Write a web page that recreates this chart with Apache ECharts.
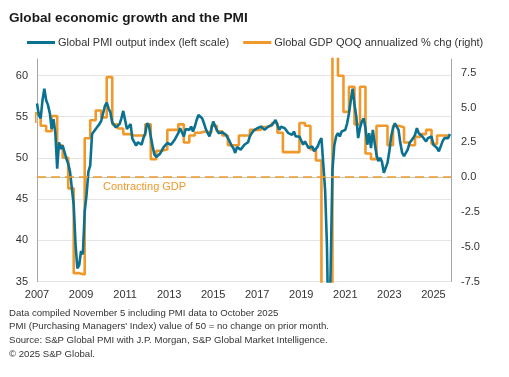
<!DOCTYPE html>
<html>
<head>
<meta charset="utf-8">
<script src="https://cdn.jsdelivr.net/npm/echarts@6/dist/echarts.min.js"></script>
<style>
html, body { margin: 0; padding: 0; background: #fff; }
#chart { width: 509px; height: 377px; }
</style>
</head>
<body>
<div id="chart"></div>
<script>
const startYear = 2007;
const yearLabels = [2007, 2009, 2011, 2013, 2015, 2017, 2019, 2021, 2023, 2025];

// Global PMI output index, monthly, Jan 2007 - Oct 2025
const pmiValues = [
    56.6, 55.2, 54.8, 57.0, 58.4, 57.0, 56.4, 55.4, 53.5, 54.7, 53.0, 48.7, // 2007
    51.9, 51.1, 51.5, 51.5, 49.9, 49.3, 48.3, 46.3, 44.3, 39.5, 36.6, 37.0, // 2008
    38.7, 38.3, 43.5, 45.5, 48.3, 49.1, 52.9, 53.2, 53.5, 53.8, 54.1, 54.5, // 2009
    54.7, 56.3, 56.7, 56.0, 55.5, 54.3, 54.3, 53.7, 53.9, 54.1, 54.8, 55.7, // 2010
    54.6, 53.5, 53.8, 54.1, 52.3, 51.9, 51.5, 51.9, 52.0, 51.6, 52.4, 53.0, // 2011
    54.2, 53.9, 52.6, 51.4, 50.4, 50.1, 50.0, 50.5, 50.6, 51.3, 51.1, 51.8, // 2012
    52.0, 51.6, 51.4, 52.2, 52.6, 53.0, 53.6, 53.8, 52.6, 53.5, 53.6, 53.4, // 2013
    53.8, 53.2, 53.8, 54.6, 55.2, 55.0, 54.8, 54.2, 53.5, 53.0, 52.6, 52.8, // 2014
    54.4, 53.9, 53.4, 53.0, 53.2, 53.1, 53.0, 52.8, 52.4, 52.0, 51.5, 51.2, // 2015
    50.6, 51.3, 51.2, 51.0, 51.2, 51.6, 51.8, 51.9, 52.6, 53.0, 53.3, 53.5, // 2016
    53.6, 53.8, 53.8, 53.6, 53.4, 53.6, 53.8, 53.8, 54.0, 54.2, 54.6, 54.4, // 2017
    53.4, 53.8, 54.0, 53.6, 53.4, 53.0, 52.8, 52.8, 53.2, 52.6, 52.4, 52.6, // 2018
    52.6, 51.6, 52.0, 51.6, 51.2, 51.4, 51.4, 50.8, 51.0, 51.4, 52.0, 52.4, // 2019
    52.2, 46.1, 39.4, 26.2, 36.3, 48.5, 51.5, 52.6, 53.0, 52.6, 53.2, 53.4, // 2020
    53.4, 54.2, 55.4, 57.0, 58.4, 56.5, 55.0, 52.4, 53.6, 54.4, 54.8, 53.6, // 2021
    51.6, 53.0, 51.2, 53.4, 51.8, 50.4, 49.6, 50.0, 49.5, 48.2, 48.2, 49.4, // 2022
    50.8, 52.6, 53.6, 54.2, 54.0, 53.4, 51.8, 50.6, 50.2, 50.6, 51.0, 51.8, // 2023
    52.0, 52.4, 52.8, 53.6, 53.0, 52.9, 52.6, 52.4, 52.0, 52.4, 52.6, 52.6, // 2024
    51.6, 51.8, 51.2, 50.8, 51.4, 52.0, 52.4, 52.6, 52.4, 52.9              // 2025
];

// Global GDP QOQ annualized % chg, quarterly, Q4 2006 - Q3 2025
const gdpValues = [
    3.9,                      // Q4 2006
    4.6, 3.7, 3.3, 4.4,       // 2007
    2.3, 1.4, -0.8, -6.9,     // 2008
    -7.0, 2.8, 4.1, 4.8,      // 2009
    4.3, 7.2, 3.8, 3.5,       // 2010
    3.1, 3.0, 3.0, 3.0,       // 2011
    3.8, 1.3, 1.9, 2.0,       // 2012
    3.4, 3.4, 3.8, 2.5,       // 2013
    3.0, 3.2, 3.3, 3.2,       // 2014
    3.7, 3.3, 3.0, 2.3,       // 2015
    2.3, 3.0, 3.0, 3.4,       // 2016
    3.4, 3.6, 3.7, 3.9,       // 2017
    3.2, 1.8, 1.8, 1.8,       // 2018
    3.9, 3.7, 2.0, 1.2,       // 2019
    -9.5, -28.0, 35.0, 7.3,   // 2020
    4.7, 6.5, 3.8, 6.5,       // 2021
    1.7, 1.3, 3.7, 3.7,       // 2022
    2.3, 3.7, 3.6, 2.5,       // 2023
    2.3, 2.9, 3.1, 3.4,       // 2024
    2.4, 3.0, 3.0             // 2025
];

const footerLines = [
    'Data compiled November 5 including PMI data to October 2025',
    "PMI (Purchasing Managers' Index) value of 50 = no change on prior month.",
    'Source: S&P Global PMI with J.P. Morgan, S&P Global Market Intelligence.',
    '\u00a9 2025 S&P Global.'
];

const tealColor = '#0b7190';
const orangeColor = '#f0992a';

const pmiData = pmiValues.map(function (v, i) {
    return [startYear + i / 12, v];
});
// quarter value drawn up to its last month (step at start)
const gdpData = gdpValues.map(function (v, i) {
    return [startYear - 1 / 12 + i * 0.25, v];
});

const chart = echarts.init(document.getElementById('chart'));
chart.setOption({
    animation: false,
    textStyle: { fontFamily: '"Liberation Sans", Arial, sans-serif' },
    title: [
        {
            text: 'Global economic growth and the PMI',
            left: 9,
            top: 11,
            padding: 0,
            textStyle: { fontSize: 13.6, fontWeight: 'bold', color: '#1a1a1a' }
        },
        {
            text: footerLines.join('\n'),
            left: 9,
            top: 306,
            padding: 0,
            textStyle: { fontSize: 9.6, fontWeight: 'normal', color: '#333', lineHeight: 13.7 }
        }
    ],
    legend: {
        top: 37,
        left: 27,
        width: 480,
        padding: 0,
        icon: 'rect',
        itemWidth: 28,
        itemHeight: 3,
        itemGap: 14,
        textStyle: { fontSize: 11, color: '#333', padding: [0, 0, 0, -2] },
        data: ['Global PMI output index (left scale)', 'Global GDP QOQ annualized % chg (right)']
    },
    grid: { left: 37, right: 58, top: 59, bottom: 95.5 },
    xAxis: {
        type: 'value',
        min: startYear,
        max: 2025.8,
        interval: 2,
        axisLine: { lineStyle: { color: '#c8c8c8' } },
        axisTick: { show: false },
        splitLine: { show: false },
        axisLabel: {
            color: '#333',
            fontSize: 11,
            margin: 8,
            showMaxLabel: false,
            formatter: function (v) {
                return yearLabels.indexOf(v) >= 0 ? String(v) : '';
            }
        }
    },
    yAxis: [
        {
            type: 'value',
            min: 35,
            max: 62,
            interval: 5,
            position: 'left',
            axisLine: { show: true, lineStyle: { color: '#a6a6a6' } },
            axisTick: { show: false },
            splitLine: { show: true, showMaxLine: false, lineStyle: { color: '#e4e4e4' } },
            axisLabel: { color: '#333', fontSize: 11, margin: 9, showMaxLabel: false }
        },
        {
            type: 'value',
            min: -7.5,
            max: 8.5,
            interval: 2.5,
            position: 'right',
            axisLine: { show: true, lineStyle: { color: '#a6a6a6' } },
            axisTick: { show: false },
            splitLine: { show: false },
            axisLabel: {
                color: '#333',
                fontSize: 11,
                margin: 10,
                showMaxLabel: false,
                formatter: function (v) { return v.toFixed(1); }
            }
        }
    ],
    series: [
        {
            name: 'Global GDP QOQ annualized % chg (right)',
            type: 'line',
            yAxisIndex: 1,
            step: 'start',
            showSymbol: false,
            clip: true,
            color: orangeColor,
            lineStyle: { width: 2.6, color: orangeColor },
            data: gdpData,
            markLine: {
                silent: true,
                symbol: 'none',
                lineStyle: { color: orangeColor, type: [9, 5], width: 1.5 },
                label: {
                    show: true,
                    position: 'insideStartBottom',
                    formatter: 'Contracting GDP',
                    color: orangeColor,
                    fontSize: 11,
                    distance: [66, 4]
                },
                data: [{ yAxis: 0 }]
            }
        },
        {
            name: 'Global PMI output index (left scale)',
            type: 'line',
            yAxisIndex: 0,
            showSymbol: false,
            clip: true,
            color: tealColor,
            lineStyle: { width: 2.6, color: tealColor },
            data: pmiData
        }
    ]
});
</script>
</body>
</html>
